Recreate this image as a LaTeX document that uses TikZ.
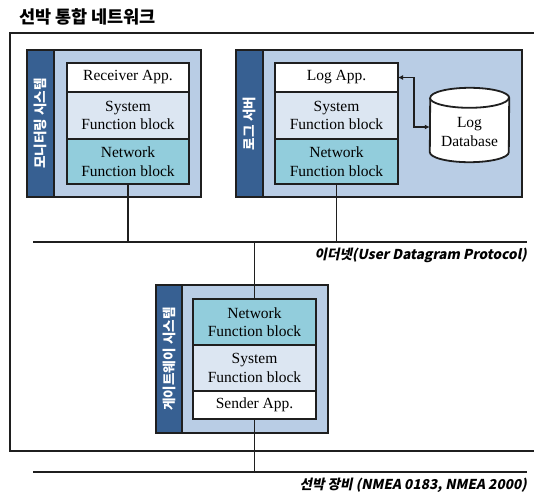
\documentclass[tikz,border=0pt]{standalone}
\usepackage{fontspec}
\setmainfont{Liberation Serif}
\newfontfamily\kr{Noto Sans CJK KR}
\newfontfamily\krit[FakeSlant=0.2]{Noto Sans CJK KR}
\usetikzlibrary{calc,arrows.meta}
\definecolor{sysbg}{HTML}{B9CDE5}
\definecolor{side}{HTML}{376092}
\definecolor{netc}{HTML}{92CDDC}
\definecolor{sysc}{HTML}{DCE6F2}
\definecolor{edge}{HTML}{1F1F1F}
\begin{document}
\begin{tikzpicture}[x=1pt,y=-1pt,
 sysbox/.style={draw=edge,line width=1.6pt,fill=sysbg,anchor=north west,inner sep=0pt,outer sep=0pt},
 sidebar/.style={draw=edge,line width=1.6pt,fill=side,anchor=north west,inner sep=0pt,outer sep=0pt,minimum height=147pt},
 sidelbl/.style={rotate=90,text=white,inner sep=0pt,font=\kr\bfseries\fontsize{13.6}{16}\selectfont},
 blk/.style={draw=edge,line width=1.6pt,anchor=north west,inner sep=0pt,outer sep=0pt,minimum width=122pt,align=center,font=\fontsize{15.5}{18.5}\selectfont},
 app/.style={blk,fill=white},
 sysf/.style={blk,fill=sysc},
 netf/.style={blk,fill=netc},
 bus/.style={line width=2pt,draw=edge},
 link/.style={line width=1.8pt,draw=edge},
 buslbl/.style={anchor=east,inner sep=0pt,font=\krit\bfseries\fontsize{13.6}{16}\selectfont}]
\useasboundingbox (0,0) rectangle (534,495);
\clip (0,0) rectangle (534,495);
% title
\node[anchor=west,inner sep=0pt,font=\kr\bfseries\fontsize{17.5}{20}\selectfont] (title) at (19,17) {선박 통합 네트워크};
% outer frame
\draw[line width=2pt,draw=edge] (545,33) -| (10,451) -- (545,451);
% bus coordinates
\coordinate (eL) at (33,242);
\coordinate (eR) at (527,242);
\coordinate (bL) at (33,472);
\coordinate (bR) at (527,472);
% monitoring system
\node[sysbox,minimum width=174pt,minimum height=147pt] (mon) at (27,50) {};
\node[sidebar,minimum width=27pt] (monside) at (27,50) {};
\node[sidelbl] (monlbl) at (monside.center) {모니터링 시스템};
\node[app,minimum height=29pt] (monapp) at (67,63) {Receiver App.};
\node[sysf,minimum height=47pt] (monsys) at (67,92) {System\\Function block};
\node[netf,minimum height=45pt] (monnet) at (67,139) {Network\\Function block};
% log server
\node[sysbox,minimum width=286pt,minimum height=147pt] (log) at (236,50) {};
\node[sidebar,minimum width=27pt] (logside) at (236,50) {};
\node[sidelbl] (loglbl) at (logside.center) {로그 서버};
\node[app,minimum width=123pt,minimum height=29pt] (logapp) at (275,63) {Log App.};
\node[sysf,minimum width=123pt,minimum height=47pt] (logsys) at (275,92) {System\\Function block};
\node[netf,minimum width=123pt,minimum height=45pt] (lognet) at (275,139) {Network\\Function block};
% database
\node[inner sep=0pt,minimum width=79pt,minimum height=74pt] (db) at (469.5,125) {};
\draw[link,fill=white] ($(db.south west)+(0,-10)$) arc[start angle=180,end angle=360,x radius=39.5pt,y radius=10pt]
  -- ($(db.north east)+(0,10)$) arc[start angle=0,end angle=180,x radius=39.5pt,y radius=10pt] -- cycle;
\draw[link] ($(db.north west)+(0,10)$) arc[start angle=180,end angle=360,x radius=39.5pt,y radius=10pt];
\node[align=center,inner sep=0pt,font=\fontsize{15.5}{18.5}\selectfont] (dbtxt) at ($(db.center)+(0,7)$) {Log\\Database};
\draw[link,{Latex[length=5pt,width=5pt]}-{Latex[length=5pt,width=5pt]}] (logapp.east) -- ++(16,0) |- ($(db.west)+(0,2)$);
% gateway
\node[sysbox,minimum width=172pt,minimum height=148pt] (gw) at (156,285) {};
\node[sidebar,minimum width=26pt,minimum height=148pt] (gwside) at (156,285) {};
\node[sidelbl] (gwlbl) at (gwside.center) {게이트웨이 시스템};
\node[netf,minimum width=123pt,minimum height=46pt] (gwnet) at (193,299) {Network\\Function block};
\node[sysf,minimum width=123pt,minimum height=46pt] (gwsys) at (193,345) {System\\Function block};
\node[app,minimum width=123pt,minimum height=28pt] (gwapp) at (193,391) {Sender App.};
% buses
\draw[bus] (eL) -- (eR);
\draw[bus] (bL) -- (bR);
\draw[link] (monnet.south) -- (monnet.south |- eL);
\draw[link] (lognet.south) -- (lognet.south |- eL);
\draw[link] (gwnet.north) -- (gwnet.north |- eL);
\draw[link] (gwapp.south) -- (gwapp.south |- bL);
\node[buslbl] (ethlbl) at (527,255) {이더넷(User Datagram Protocol)};
\node[buslbl] (nmealbl) at (527,485) {선박 장비 (NMEA 0183, NMEA 2000)};
\end{tikzpicture}
\end{document}
